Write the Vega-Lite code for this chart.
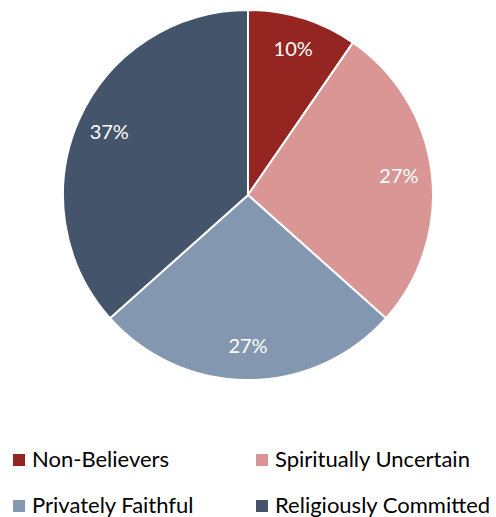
{
  "$schema": "https://vega.github.io/schema/vega-lite/v6.json",
  "width": 496,
  "height": 390,
  "padding": 0,
  "background": "white",
  "config": {"view": {"stroke": null}},
  "data": {"values": [
    {"group": "Non-Believers", "value": 9.6, "label": "10%", "order": 1},
    {"group": "Spiritually Uncertain", "value": 27.0, "label": "27%", "order": 2},
    {"group": "Privately Faithful", "value": 26.8, "label": "27%", "order": 3},
    {"group": "Religiously Committed", "value": 36.6, "label": "37%", "order": 4}
  ]},
  "encoding": {
    "theta": {"field": "value", "type": "quantitative", "stack": true},
    "order": {"field": "order", "type": "quantitative"}
  },
  "layer": [
    {
      "mark": {"type": "arc", "outerRadius": 185, "stroke": "white", "strokeWidth": 2},
      "encoding": {
        "color": {
          "field": "group", "type": "nominal",
          "sort": ["Non-Believers", "Spiritually Uncertain", "Privately Faithful", "Religiously Committed"],
          "scale": {
            "domain": ["Non-Believers", "Spiritually Uncertain", "Privately Faithful", "Religiously Committed"],
            "range": ["#952521", "#D99694", "#8497B0", "#44546A"]
          },
          "legend": {
            "title": null,
            "orient": "none",
            "direction": "horizontal",
            "legendX": 8,
            "legendY": 449,
            "columns": 2,
            "columnPadding": 56,
            "rowPadding": 24,
            "symbolType": "square",
            "symbolSize": 144,
            "symbolStrokeWidth": 0,
            "labelFont": "Lato",
            "labelFontSize": 22,
            "labelColor": "#000000",
            "labelOffset": 2,
            "labelLimit": 400
          }
        }
      }
    },
    {
      "mark": {"type": "text", "radius": 152, "fill": "white", "font": "Lato", "fontSize": 20},
      "encoding": {"text": {"field": "label"}}
    }
  ]
}
